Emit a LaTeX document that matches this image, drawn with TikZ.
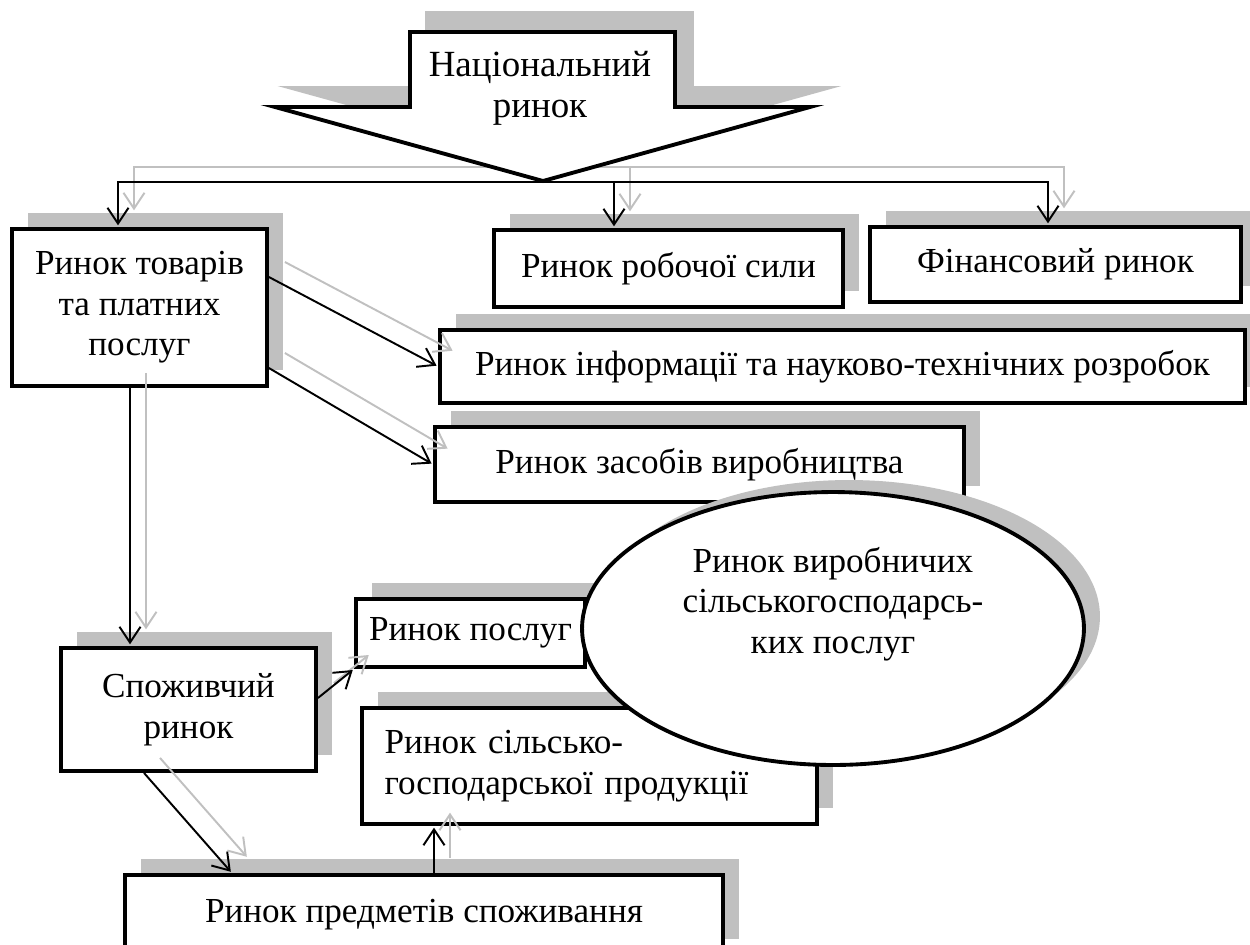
\documentclass[tikz,border=0pt]{standalone}
\usepackage{fontspec}
\setmainfont{Liberation Serif}
\usetikzlibrary{arrows.meta}
\usetikzlibrary{calc}
\usetikzlibrary{shapes.geometric,shadows}
\definecolor{shadowgray}{RGB}{192,192,192}
\tikzset{>={Straight Barb[length=9pt,width=12pt]}}
\tikzset{
  box/.style={draw, line width=2.2pt, fill=white, inner sep=0pt, align=center,
    font=\fontsize{20}{23}\selectfont,
    drop shadow={shadow xshift=0.32cm, shadow yshift=0.32cm, fill=shadowgray, opacity=1}},
  conn/.style={->, line width=1.1pt, shorten >=1pt},
}

\newcommand{\marketlinks}{%
  \draw[conn] (tip) -| ($(tovary.north)+(-21.5,0)$);
  \draw[conn] (tip) -| ($(robota.north)+(-54.5,0)$);
  \draw[conn] (tip) -| ($(finans.north)+(-7.5,0)$);
  \draw[conn] ($(tovary.east)+(0,-30.5)$) -- (inform.west);
  \draw[conn] ($(tovary.east)+(0,60.5)$) -- (zasoby.west);
  \draw[conn] ($(tovary.south)+(-9.5,0)$) -- ($(spozh.north)+(-58.5,0)$);
  \draw[conn] ($(spozh.east)+(0,-11.5)$) -- (posluhy.south west);
  \draw[conn] ($(spozh.south)+(-44.5,0)$) -- ($(predmety.north)+(-192,0)$);
  \draw[conn] ($(predmety.north)+(10,0)$) -- ($(silgosp.south)+(-155.5,0)$);
}

\begin{document}
\begin{tikzpicture}[x=0.02cm, y=-0.02cm]
  \useasboundingbox (0,0) rectangle (1250,944);

  \node[box, minimum width=5.1cm, minimum height=3.14cm] (tovary) at (139.5,307.5) {Ринок товарів\\та платних\\послуг};
  \node[box, minimum width=6.98cm, minimum height=1.54cm] (robota) at (668.5,268.5) {Ринок робочої сили};
  \node[box, minimum width=7.42cm, minimum height=1.5cm] (finans) at (1055.5,264.5) {Фінансовий ринок};
  \node[box, minimum width=16.1cm, minimum height=1.46cm] (inform) at (842.5,366.5) {Ринок інформації та науково-технічних розробок};
  \node[box, minimum width=10.58cm, minimum height=1.5cm] (zasoby) at (699.5,464.5) {Ринок засобів виробництва};
  \node[box, minimum width=4.58cm, minimum height=1.36cm] (posluhy) at (470.5,633) {Ринок послуг};
  \node[box, align=left, text width=8.2cm, minimum width=9.1cm, minimum height=2.32cm] (silgosp) at (589.5,766) {Ринок сільсько-\\господарської продукції};
  \node[box, minimum width=5.1cm, minimum height=2.46cm] (spozh) at (188.5,709.5) {Споживчий\\ринок};
  \node[box, minimum width=11.96cm, minimum height=1.6cm] (predmety) at (424,915) {Ринок предметів споживання};

  \node[ellipse, draw, line width=2.2pt, fill=white, inner sep=0pt,
    minimum width=10.04cm, minimum height=5.46cm,
    drop shadow={shadow xshift=0.32cm, shadow yshift=0.24cm, fill=shadowgray, opacity=1}] (vyrob) at (833,628.5) {};
  \node[align=center, font=\fontsize{20}{23}\selectfont] (vyrobtext) at (833,604) {Ринок виробничих\\сільськогосподарсь-\\ких послуг};

  \coordinate (tip) at (543,182);

  % shadow copies of the links
  \begin{scope}[transform canvas={shift={(16,-15)}}, conn/.append style={draw=shadowgray}]
    \marketlinks
  \end{scope}

  % big arrow
  \filldraw[shadowgray, line width=2.2pt, shift={(17,-19)}] (410,32) -- (675,32) -- (675,107) -- (810,107) -- (543,181) -- (275,107) -- (410,107) -- cycle;
  \draw[line width=2.2pt, fill=white] (410,32) -- (675,32) -- (675,107) -- (810,107) -- (543,181) -- (275,107) -- (410,107) -- cycle;
  \node[align=center, font=\fontsize{21}{23.5}\selectfont] (nats) at (540,88) {Національний\\ринок};

  \marketlinks
\end{tikzpicture}
\end{document}
